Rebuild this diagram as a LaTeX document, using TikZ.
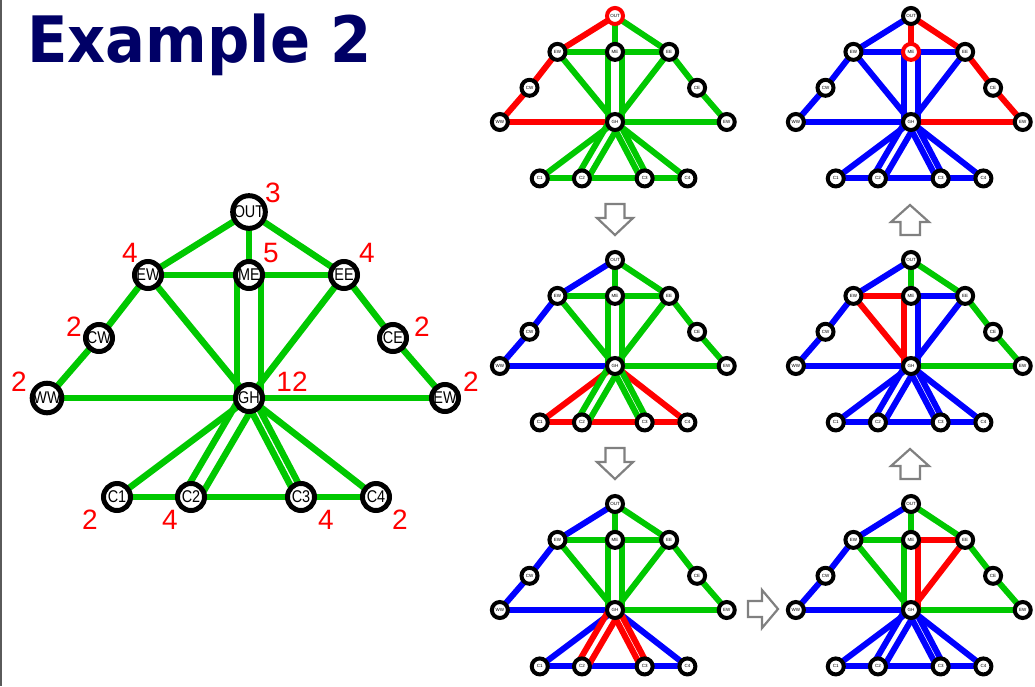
\documentclass[tikz,border=0pt]{standalone}
\usepackage{fontspec}
\setmainfont{Liberation Sans}
\newfontfamily\titlefont{DejaVu Sans}
\usetikzlibrary{calc}
\pgfdeclarelayer{bg}
\pgfsetlayers{bg,main}
\definecolor{eg}{RGB}{0,200,0}
\definecolor{er}{RGB}{255,0,0}
\definecolor{eb}{RGB}{0,0,255}
\definecolor{navy}{RGB}{0,0,102}
\definecolor{arrowgray}{RGB}{128,128,128}
\definecolor{leftgray}{RGB}{90,90,90}

\newcommand\vlabmain[1]{\fontsize{17}{17}\selectfont\scalebox{0.85}[1]{#1}}
\newcommand\vlabsmall[1]{\fontsize{4.5}{5}\selectfont #1}
\newcommand\vlab[1]{#1}

\tikzset{
  vmain/.style={circle, draw=black, fill=white, line width=5pt, minimum size=27pt, inner sep=0pt},
  vsmall/.style={circle, draw=black, fill=white, line width=4pt, minimum size=16pt, inner sep=0pt},
  edgemain/.style={line width=6.5pt, draw=eg},
  edgesmall/.style={line width=6pt, draw=eg},
  cR/.style={draw=er}, cB/.style={draw=eb}, cG/.style={draw=eg},
  deg/.style={text=er, font=\fontsize{28}{28}\selectfont, inner sep=0pt},
  garrow/.style={draw=arrowgray, line width=2.2pt, fill=white, line join=miter},
  vtx/.style=vmain, ln/.style=edgemain,
  vOUT/.style={}, vEW/.style={}, vME/.style={}, vEE/.style={}, vCW/.style={}, vCE/.style={},
  vWW/.style={}, vGH/.style={}, vEWr/.style={}, vCa/.style={}, vCb/.style={}, vCc/.style={}, vCd/.style={},
  eOUTEW/.style={}, eOUTME/.style={}, eOUTEE/.style={}, eEWME/.style={}, eMEEE/.style={},
  eEWCW/.style={}, eCWWW/.style={}, eEECE/.style={}, eCEEWr/.style={}, eWWGH/.style={},
  eGHEWr/.style={}, eEWGH/.style={}, eMEGHa/.style={}, eMEGHb/.style={}, eEEGH/.style={},
  eGHCa/.style={}, eGHCba/.style={}, eGHCbb/.style={}, eGHCca/.style={}, eGHCcb/.style={},
  eGHCd/.style={}, eCaCb/.style={}, eCbCc/.style={}, eCcCd/.style={}
}

% #1 prefix, #2 x of GH, #3 y of GH, #4 scale, #5 ME-GH offset, #6 GH-C2 offset, #7 GH-C3 offset
\newcommand\graphat[7]{%
  \foreach \n/\dx/\dy/\lab in {OUT/0/-186/OUT, EW/-101/-123/EW, ME/0/-123/ME, EE/95/-123/EE,
      CW/-150/-60/CW, CE/144/-60/CE, WW/-202/0/WW, GH/0/0/GH, EWr/196/0/EW,
      Ca/-132/99/C1, Cb/-58/99/C2, Cc/52/99/C3, Cd/127/99/C4}{
    \node[vtx, v\n] (#1\n) at ({#2+#4*(\dx)},{#3+#4*(\dy)}) {\vlab{\lab}};
  }
  \begin{pgfonlayer}{bg}
    \draw[ln,eOUTEW] (#1OUT.center) -- (#1EW.center);
    \draw[ln,eOUTME] (#1OUT.center) -- (#1ME.center);
    \draw[ln,eOUTEE] (#1OUT.center) -- (#1EE.center);
    \draw[ln,eEWME] (#1EW.center) -- (#1ME.center);
    \draw[ln,eMEEE] (#1ME.center) -- (#1EE.center);
    \draw[ln,eEWCW] (#1EW.center) -- (#1CW.center);
    \draw[ln,eCWWW] (#1CW.center) -- (#1WW.center);
    \draw[ln,eEECE] (#1EE.center) -- (#1CE.center);
    \draw[ln,eCEEWr] (#1CE.center) -- (#1EWr.center);
    \draw[ln,eWWGH] (#1WW.center) -- (#1GH.center);
    \draw[ln,eGHEWr] (#1GH.center) -- (#1EWr.center);
    \draw[ln,eEWGH] (#1EW.center) -- (#1GH.center);
    \draw[ln,eEEGH] (#1EE.center) -- (#1GH.center);
    \draw[ln,eGHCa] (#1GH.center) -- (#1Ca.center);
    \draw[ln,eGHCd] (#1GH.center) -- (#1Cd.center);
    \draw[ln,eCaCb] (#1Ca.center) -- (#1Cb.center);
    \draw[ln,eCbCc] (#1Cb.center) -- (#1Cc.center);
    \draw[ln,eCcCd] (#1Cc.center) -- (#1Cd.center);
    \draw[ln,eMEGHa] ($(#1ME.center)+({-#5},0)$) -- ($(#1GH.center)+({-#5},0)$);
    \draw[ln,eMEGHb] ($(#1ME.center)+({#5},0)$) -- ($(#1GH.center)+({#5},0)$);
    \draw[ln,eGHCba] ($(#1GH.center)+({-#6*0.863},{-#6*0.505})$) -- ($(#1Cb.center)+({-#6*0.863},{-#6*0.505})$);
    \draw[ln,eGHCbb] ($(#1GH.center)+({#6*0.863},{#6*0.505})$) -- ($(#1Cb.center)+({#6*0.863},{#6*0.505})$);
    \draw[ln,eGHCca] ($(#1GH.center)+({-#7*0.885},{#7*0.465})$) -- ($(#1Cc.center)+({-#7*0.885},{#7*0.465})$);
    \draw[ln,eGHCcb] ($(#1GH.center)+({#7*0.885},{-#7*0.465})$) -- ($(#1Cc.center)+({#7*0.885},{-#7*0.465})$);
  \end{pgfonlayer}
}

\begin{document}
\begin{tikzpicture}[x=1pt,y=-1pt]
\useasboundingbox (0,0) rectangle (1035,686);
\draw[line width=2pt, draw=leftgray] (1,0) -- (1,686);

\node[anchor=base west, text=navy, inner sep=0pt, font=\titlefont\bfseries\fontsize{64}{64}\selectfont] (title) at (27,62) {\scalebox{0.925}[1]{Example 2}};

% main graph
\begin{scope}[vtx/.style=vmain, ln/.style=edgemain]
\let\vlab\vlabmain
\graphat{m}{249}{398}{1}{12}{8}{4}
\end{scope}

\node[deg] (dOUT) at (273,193) {3};
\node[deg] (dEW) at (130,253) {4};
\node[deg] (dME) at (271,253) {5};
\node[deg] (dEE) at (367,253) {4};
\node[deg] (dCW) at (74,327) {2};
\node[deg] (dCE) at (422,327) {2};
\node[deg] (dWW) at (19,382) {2};
\node[deg] (dGH) at (292,382) {12};
\node[deg] (dEWr) at (471,382) {2};
\node[deg] (dCa) at (90,520) {2};
\node[deg] (dCb) at (170,520) {4};
\node[deg] (dCc) at (326,520) {4};
\node[deg] (dCd) at (400,520) {2};

% G1 top middle
\begin{scope}[vtx/.style=vsmall, ln/.style={edgesmall},
  vOUT/.style={draw=er},
  eOUTEW/.style=cR, eEWCW/.style=cR, eCWWW/.style=cR, eWWGH/.style=cR]
\let\vlab\vlabsmall
\graphat{a}{615}{122}{0.57}{6.8}{5.2}{3.4}
\end{scope}

% G2 top right
\begin{scope}[vtx/.style=vsmall, ln/.style={edgesmall,cB},
  vME/.style={draw=er},
  eOUTME/.style=cR, eOUTEE/.style=cR, eEECE/.style=cR, eCEEWr/.style=cR, eGHEWr/.style=cR]
\let\vlab\vlabsmall
\graphat{b}{911}{122}{0.57}{6.8}{5.2}{3.4}
\end{scope}

% G3 middle middle
\begin{scope}[vtx/.style=vsmall, ln/.style={edgesmall},
  eOUTEW/.style=cB, eEWCW/.style=cB, eCWWW/.style=cB, eWWGH/.style=cB,
  eGHCa/.style=cR, eCaCb/.style=cR, eCbCc/.style=cR, eCcCd/.style=cR, eGHCd/.style=cR]
\let\vlab\vlabsmall
\graphat{c}{615}{366}{0.57}{6.8}{5.2}{3.4}
\end{scope}

% G4 middle right
\begin{scope}[vtx/.style=vsmall, ln/.style={edgesmall,cB},
  eEWME/.style=cR, eEWGH/.style=cR, eMEGHa/.style=cR,
  eOUTME/.style=cG, eOUTEE/.style=cG, eEECE/.style=cG, eCEEWr/.style=cG, eGHEWr/.style=cG]
\let\vlab\vlabsmall
\graphat{d}{911}{366}{0.57}{6.8}{5.2}{3.4}
\end{scope}

% G5 bottom middle
\begin{scope}[vtx/.style=vsmall, ln/.style={edgesmall},
  eOUTEW/.style=cB, eEWCW/.style=cB, eCWWW/.style=cB, eWWGH/.style=cB,
  eGHCa/.style=cB, eCaCb/.style=cB, eCbCc/.style=cB, eCcCd/.style=cB, eGHCd/.style=cB,
  eGHCba/.style=cR, eGHCbb/.style=cR, eGHCca/.style=cR, eGHCcb/.style=cR]
\let\vlab\vlabsmall
\graphat{e}{615}{610}{0.57}{6.8}{5.2}{3.4}
\end{scope}

% G6 bottom right
\begin{scope}[vtx/.style=vsmall, ln/.style={edgesmall,cB},
  eOUTME/.style=cG, eOUTEE/.style=cG, eEWME/.style=cG, eEWGH/.style=cG, eMEGHa/.style=cG,
  eEECE/.style=cG, eCEEWr/.style=cG, eGHEWr/.style=cG,
  eMEEE/.style=cR, eEEGH/.style=cR, eMEGHb/.style=cR]
\let\vlab\vlabsmall
\graphat{f}{911}{610}{0.57}{6.8}{5.2}{3.4}
\end{scope}

% hollow arrows
\draw[garrow] (605.5,204) -- (624.5,204) -- (624.5,218) -- (633,218) -- (615,235) -- (597,218) -- (605.5,218) -- cycle;
\draw[garrow] (605.5,448) -- (624.5,448) -- (624.5,462) -- (633,462) -- (615,479) -- (597,462) -- (605.5,462) -- cycle;
\draw[garrow] (900.5,235) -- (920,235) -- (920,222) -- (929,222) -- (910,205) -- (891,222) -- (900.5,222) -- cycle;
\draw[garrow] (900.5,479) -- (920,479) -- (920,466) -- (929,466) -- (910,449) -- (891,466) -- (900.5,466) -- cycle;
\draw[garrow] (748,601) -- (762,601) -- (762,590) -- (778,609) -- (762,628) -- (762,617) -- (748,617) -- cycle;
\end{tikzpicture}
\end{document}
